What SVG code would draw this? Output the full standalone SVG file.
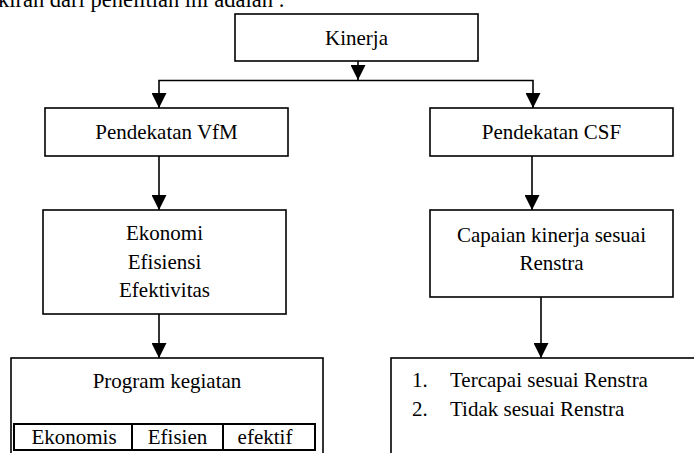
<svg xmlns="http://www.w3.org/2000/svg" width="694" height="453" viewBox="0 0 694 453" font-family="'Liberation Serif', 'Times New Roman', 'DejaVu Serif', serif">
<style>
.box{fill:#fff;stroke:#000;stroke-width:1.6}
.ln{fill:none;stroke:#000;stroke-width:1.6}
text{font-family:'Liberation Serif','Times New Roman','DejaVu Serif',serif;font-size:21px;fill:#000}
.c{text-anchor:middle}
</style>
<defs>
<marker id="ah" viewBox="0 0 10 10" refX="10" refY="5" markerWidth="15" markerHeight="15" markerUnits="userSpaceOnUse" orient="auto">
<path d="M0,0 L10,5 L0,10 Z" fill="#000"/>
</marker>
</defs>
<text x="-2" y="7" font-size="22.5" style="font-size:22.5px">kiran dari penelitian ini adalah :</text>
<g id="connectors">
<line class="ln" x1="358" y1="61" x2="358" y2="80" marker-end="url(#ah)"/>
<polyline class="ln" points="159,108 159,80.5 533,80.5 533,108"/>
<line class="ln" x1="159" y1="93" x2="159" y2="108" marker-end="url(#ah)"/>
<line class="ln" x1="533" y1="93" x2="533" y2="108" marker-end="url(#ah)"/>
<line class="ln" x1="159" y1="156" x2="159" y2="210" marker-end="url(#ah)"/>
<line class="ln" x1="532" y1="156" x2="532" y2="210" marker-end="url(#ah)"/>
<line class="ln" x1="159" y1="314" x2="159" y2="358" marker-end="url(#ah)"/>
<line class="ln" x1="541" y1="297" x2="541" y2="358" marker-end="url(#ah)"/>
</g>
<g id="kinerja">
<rect class="box" x="235" y="14" width="243" height="47"/>
<text class="c" x="356.5" y="45">Kinerja</text>
</g>
<g id="vfm">
<rect class="box" x="45" y="108" width="243" height="48"/>
<text class="c" x="166.5" y="139">Pendekatan VfM</text>
</g>
<g id="csf">
<rect class="box" x="430" y="108" width="243" height="48"/>
<text class="c" x="551.5" y="139">Pendekatan CSF</text>
</g>
<g id="eee">
<rect class="box" x="43" y="210" width="243" height="104"/>
<text class="c" x="164.5" y="240">Ekonomi</text>
<text class="c" x="164.5" y="269">Efisiensi</text>
<text class="c" x="164.5" y="297">Efektivitas</text>
</g>
<g id="capaian">
<rect class="box" x="430" y="210" width="243" height="87"/>
<text class="c" x="551.5" y="242">Capaian kinerja sesuai</text>
<text class="c" x="551.5" y="270">Renstra</text>
</g>
<g id="program">
<rect class="box" x="11" y="358" width="312" height="110"/>
<text class="c" x="167" y="388">Program kegiatan</text>
<rect class="box" x="14" y="424" width="301" height="26" style="stroke-width:2"/>
<line class="ln" x1="132" y1="424" x2="132" y2="450" style="stroke-width:2"/>
<line class="ln" x1="223" y1="424" x2="223" y2="450" style="stroke-width:2"/>
<text class="c" x="74" y="444">Ekonomis</text>
<text class="c" x="177.5" y="444">Efisien</text>
<text class="c" x="265" y="444">efektif</text>
</g>
<g id="hasil">
<rect class="box" x="391" y="358" width="320" height="110"/>
<text x="412" y="387">1.</text>
<text x="450" y="387">Tercapai sesuai Renstra</text>
<text x="412" y="416">2.</text>
<text x="450" y="416">Tidak sesuai Renstra</text>
</g>
</svg>
